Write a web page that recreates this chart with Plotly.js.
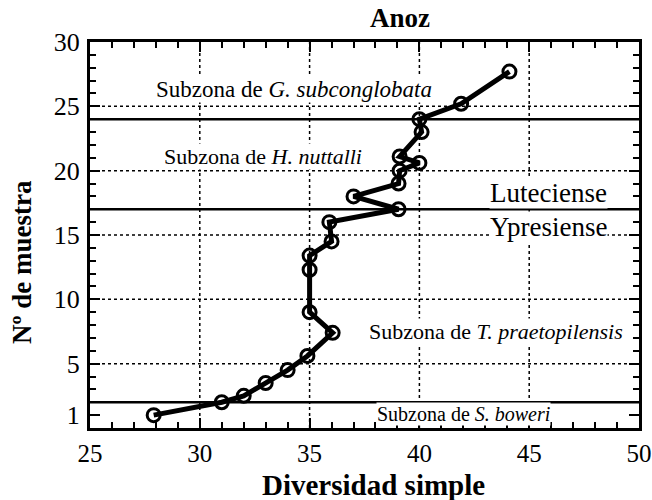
<!DOCTYPE html>
<html><head><meta charset="utf-8">
<script src="https://cdn.plot.ly/plotly-3.0.1.min.js"></script>
<style>body{margin:0;background:#fff}#chart{width:652px;height:500px}</style>
</head><body><div id="chart"></div>
<script>
// Data
const sampleNo   = [1, 2, 2.5, 3.5, 4.5, 5.6, 7.4, 9, 12.3, 13.4, 14.5, 16, 17, 18, 19, 20, 20.6, 21.1, 23, 24, 25.2, 27.7];
const diversity  = [27.9, 31.0, 32.0, 33.0, 34.0, 34.9, 36.05, 35.0, 35.0, 35.0, 36.0, 35.9, 39.05, 37.0, 39.05, 39.1, 40.0, 39.1, 40.1, 40.0, 41.9, 44.1];
const yTickVals  = [1, 5, 10, 15, 20, 25, 30];
const gridX      = [30, 35, 40, 45];
const gridY      = [5, 10, 15, 20, 25];
const boundaries = [2, 17, 24];
const labels = [
  {text: 'Subzona de <i>G. subconglobata</i>', x: 34.3, y: 26.3, size: 23},
  {text: 'Subzona de <i>H. nuttalli</i>', x: 32.9, y: 21.1, size: 22},
  {text: 'Luteciense', x: 45.9, y: 18.3, size: 27},
  {text: 'Ypresiense', x: 45.9, y: 15.6, size: 27},
  {text: 'Subzona de <i>T. praetopilensis</i>', x: 43.5, y: 7.5, size: 22},
  {text: 'Subzona de <i>S. boweri</i>', x: 42.0, y: 1.1, size: 20}
];
const chartTitle = 'Anoz';
const xTitle = 'Diversidad simple';
const yTitle = 'Nº de muestra';

const F = 'Liberation Serif, Times New Roman, serif';
const shapes = [];
gridX.forEach(v => shapes.push({type:'line', xref:'x', yref:'paper', x0:v, x1:v, y0:0, y1:1, layer:'below', line:{color:'#000', width:1.5, dash:'dot'}}));
gridY.forEach(v => shapes.push({type:'line', xref:'paper', yref:'y', x0:0, x1:1, y0:v, y1:v, layer:'below', line:{color:'#000', width:1.5, dash:'dot'}}));
boundaries.forEach(v => shapes.push({type:'line', xref:'paper', yref:'y', x0:0, x1:1, y0:v, y1:v, layer:'below', line:{color:'#000', width:2.4}}));

const annotations = labels.map(l => ({
  text: l.text, x: l.x, y: l.y, xref:'x', yref:'y', showarrow:false,
  bgcolor:'#fff', borderpad:0, font:{family:F, size:l.size, color:'#000'}
}));
// titles placed as paper annotations
annotations.push({text:'<b>'+chartTitle+'</b>', xref:'paper', yref:'paper', x:0.565, y:1.062, xanchor:'center', yanchor:'middle', showarrow:false, font:{family:F, size:27, color:'#000'}});
annotations.push({text:'<b>'+xTitle+'</b>', xref:'paper', yref:'paper', x:0.517, y:-0.148, xanchor:'center', yanchor:'middle', showarrow:false, font:{family:F, size:29, color:'#000'}});
annotations.push({text:'<b>'+yTitle+'</b>', xref:'paper', yref:'paper', x:-0.124, y:0.43, xanchor:'center', yanchor:'middle', textangle:-90, showarrow:false, font:{family:F, size:27, color:'#000'}});

const tickCommon = {
  ticks:'inside', ticklen:10, tickwidth:2, tickcolor:'#000',
  showgrid:false, zeroline:false,
  showline:true, linewidth:3, linecolor:'#000',
  ticklabeloverflow:'allow',
  tickfont:{family:F, size:26, color:'#000'}
};
const xMinor = {dtick:1, tick0:25, ticks:'inside', ticklen:6, tickwidth:2, tickcolor:'#000', showgrid:false};
const yMinor = {tickmode:'linear', dtick:1, tick0:0, ticks:'inside', ticklen:6, tickwidth:2, tickcolor:'#000', showgrid:false};

Plotly.newPlot('chart', [{
  x: diversity, y: sampleNo, type:'scatter', mode:'lines+markers',
  line:{color:'#000', width:5},
  marker:{symbol:'circle-open', size:13, color:'#000', line:{width:3, color:'#000'}},
  hoverinfo:'skip'
}, {
  x: [], y: [], xaxis:'x2', yaxis:'y2', type:'scatter', mode:'markers', hoverinfo:'skip'
}], {
  width:652, height:500,
  margin:{l:90, r:13, t:42, b:72},
  paper_bgcolor:'#fff', plot_bgcolor:'#fff',
  showlegend:false,
  font:{family:F, color:'#000'},
  xaxis:Object.assign({}, tickCommon, {
    range:[25, 50], tickmode:'linear', tick0:25, dtick:5, minor:xMinor, ticklabelstandoff:1,
    tickfont:{family:F, size:25, color:'#000'}
  }),
  yaxis:Object.assign({}, tickCommon, {
    range:[0, 30], tickmode:'array', tickvals:yTickVals, ticktext:yTickVals.map(String), minor:yMinor, ticklabelstandoff:2
  }),
  xaxis2:Object.assign({}, tickCommon, {
    range:[25, 50], tickmode:'linear', tick0:25, dtick:5, minor:xMinor,
    overlaying:'x', side:'top', anchor:'y2', showticklabels:false
  }),
  yaxis2:Object.assign({}, tickCommon, {
    range:[0, 30], tickmode:'array', tickvals:yTickVals, minor:yMinor,
    overlaying:'y', side:'right', anchor:'x2', showticklabels:false
  }),
  shapes: shapes,
  annotations: annotations
}, {displayModeBar:false, staticPlot:true});
</script></body></html>
